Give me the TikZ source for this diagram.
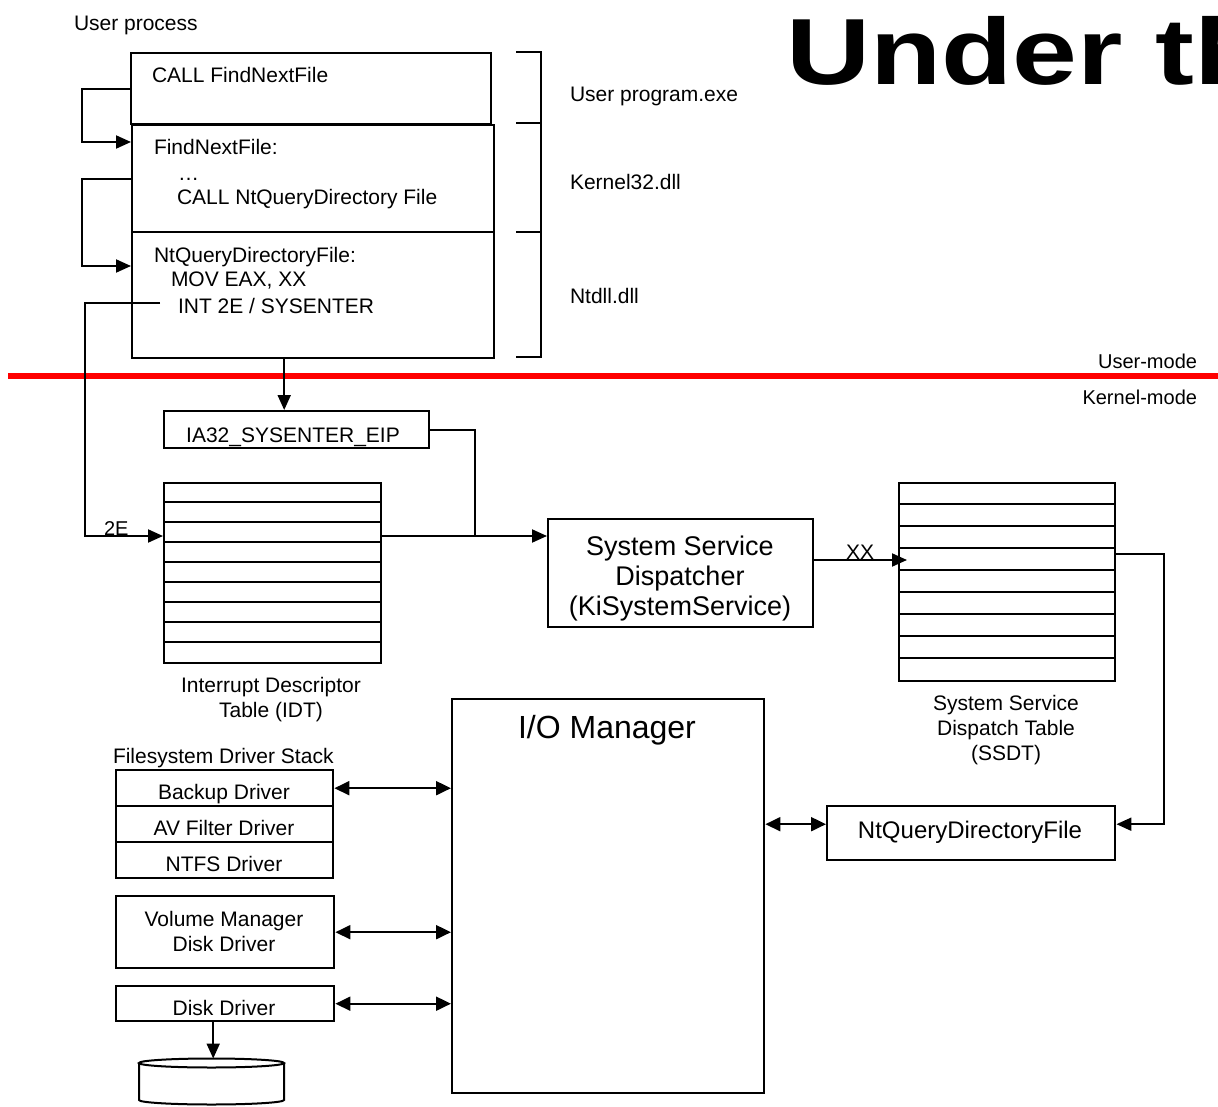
\documentclass[tikz,border=0pt]{standalone}
\usepackage{fontspec}
\setmainfont{Liberation Sans}
\usetikzlibrary{arrows.meta, positioning, calc}
\definecolor{modered}{HTML}{FF0000}
\newcommand{\lblfont}{\fontsize{21}{25}\selectfont}
\newcommand{\modefont}{\fontsize{20}{24}\selectfont}
\newcommand{\ssdfont}{\fontsize{27}{30}\selectfont}
\newcommand{\ntqfont}{\fontsize{24}{28}\selectfont}
\newcommand{\iofont}{\fontsize{32}{36}\selectfont}
\newcommand{\titlefont}{\fontsize{94}{100}\selectfont\bfseries}

\begin{document}
\begin{tikzpicture}[x=1pt, y=-1pt, line width=2pt,
    blk/.style={draw, line width=2.4pt, anchor=north west, inner sep=0pt},
    txt/.style={anchor=base west, inner sep=0pt, font=\lblfont},
    ctxt/.style={anchor=base, inner sep=0pt, font=\lblfont},
    arr/.style={-{Triangle[length=15pt, width=13pt]}},
    dbl/.style={{Triangle[length=15pt, width=14pt]}-{Triangle[length=15pt, width=14pt]}}]
  \useasboundingbox (0,0) rectangle (1218,1107);
  \clip (0,0) rectangle (1218,1107);

  % slide title, cut by the right edge
  \node[anchor=base west, inner sep=0pt, font=\titlefont, xscale=1.24] (title) at (785,85) {Under the};

  % user / kernel boundary
  \draw[modered, line width=6pt] (8,376) -- (1218,376);
  \node[anchor=base east, inner sep=0pt, font=\modefont] (usermode) at (1198,368) {User-mode};
  \node[anchor=base east, inner sep=0pt, font=\modefont] (kernmode) at (1198,404) {Kernel-mode};

  % user process
  \node[txt] (proc) at (73,31) {User process};
  \node[blk, minimum width=360pt, minimum height=71pt] (callbox) at (130,52) {};
  \node[blk, minimum width=362pt, minimum height=107pt] (fnbox) at (131,124) {};
  \node[blk, minimum width=362pt, minimum height=126pt] (ntbox) at (131,231) {};
  \node[txt] (callline) at (151,83) {CALL FindNextFile};
  \node[txt] (fnlabel) at (153,155) {FindNextFile:};
  \node[txt] (fndots) at (177,181) {…};
  \node[txt] (fncall) at (176,205) {CALL NtQueryDirectory File};
  \node[txt] (ntlabel) at (153,263) {NtQueryDirectoryFile:};
  \node[txt] (ntmov) at (170,287) {MOV EAX, XX};
  \node[txt] (ntint) at (177,313) {INT 2E / SYSENTER};

  % module brackets
  \draw (516,52) -- (541,52) -- (541,357) -- (516,357);
  \draw (516,123) -- (541,123);
  \draw (516,232) -- (541,232);
  \node[txt] (exe) at (569,102) {User program.exe};
  \node[txt] (k32) at (569,190) {Kernel32.dll};
  \node[txt] (ntdll) at (569,304) {Ntdll.dll};

  % call chain
  \draw[arr] (callbox.west) -- ++(-48,0) |- ($(fnbox.north west)+(0,18)$);
  \draw[arr] (fnbox.west) -- ++(-49,0) |- ($(ntbox.north west)+(0,35)$);

  % kernel side
  \node[blk, minimum width=265pt, minimum height=37pt] (ia32) at (163,410) {};
  \node[ctxt] (ia32txt) at (293,442) {IA32\_SYSENTER\_EIP};

  \node[blk, minimum width=217pt, minimum height=180pt] (idt) at (163,482) {};
  \foreach \r in {1,...,8}
    \draw ($(idt.north west)+(0,20*\r)$) -- ($(idt.north east)+(0,20*\r)$);
  \node[ctxt] (idtcap1) at (271,692) {Interrupt Descriptor};
  \node[ctxt] (idtcap2) at (271,717) {Table (IDT)};

  \node[blk, minimum width=265pt, minimum height=108pt] (ssd) at (547,518) {};
  \node[anchor=base, inner sep=0pt, font=\ssdfont] (ssd1) at (680,555) {System Service};
  \node[anchor=base, inner sep=0pt, font=\ssdfont] (ssd2) at (680,585) {Dispatcher};
  \node[anchor=base, inner sep=0pt, font=\ssdfont] (ssd3) at (680,615) {(KiSystemService)};

  \node[blk, minimum width=216pt, minimum height=198pt] (ssdt) at (898,482) {};
  \foreach \r in {1,...,8}
    \draw ($(ssdt.north west)+(0,22*\r)$) -- ($(ssdt.north east)+(0,22*\r)$);
  \node[ctxt] (ssdtcap1) at (1006,710) {System Service};
  \node[ctxt] (ssdtcap2) at (1006,735) {Dispatch Table};
  \node[ctxt] (ssdtcap3) at (1006,760) {(SSDT)};

  \node[blk, minimum width=312pt, minimum height=394pt] (io) at (451,698) {};
  \node[anchor=base, inner sep=0pt, font=\iofont] (iotxt) at (607,738) {I/O Manager};

  \node[blk, minimum width=288pt, minimum height=54pt] (ntq) at (826,805) {};
  \node[anchor=base, inner sep=0pt, font=\ntqfont] (ntqtxt) at (970,838) {NtQueryDirectoryFile};

  % driver stack
  \node[txt] (fsstack) at (112,763) {Filesystem Driver Stack};
  \node[blk, minimum width=217pt, minimum height=36pt] (backup) at (115,769) {};
  \node[blk, minimum width=217pt, minimum height=36pt] (avfilter) at (115,805) {};
  \node[blk, minimum width=217pt, minimum height=36pt] (ntfs) at (115,841) {};
  \node[ctxt] (backuptxt) at (224,799) {Backup Driver};
  \node[ctxt] (avtxt) at (224,835) {AV Filter Driver};
  \node[ctxt] (ntfstxt) at (224,871) {NTFS Driver};
  \node[blk, minimum width=218pt, minimum height=72pt] (volume) at (115,895) {};
  \node[ctxt] (voltxt1) at (224,926) {Volume Manager};
  \node[ctxt] (voltxt2) at (224,951) {Disk Driver};
  \node[blk, minimum width=218pt, minimum height=35pt] (diskdrv) at (115,985) {};
  \node[ctxt] (disktxt) at (224,1015) {Disk Driver};

  % disk
  \coordinate (disktop) at (211.5,1063);
  \coordinate (disklid) at (211.5,1058.5);
  \draw (disktop) ellipse [x radius=72.5, y radius=4.5];
  \draw (139,1063) -- (139,1100) arc [start angle=180, end angle=0, x radius=72.5, y radius=4.5] -- (284,1063);

  % connectors
  \coordinate (intline) at (160,303);
  \draw[arr] (intline) -- ++(-75,0) |- ($(idt.north west)+(0,54)$);
  \node[anchor=base west, inner sep=0pt, font=\modefont] (vec2e) at (103,535) {2E};

  \coordinate (sysexit) at ($(ntbox.south)+(-29,0)$);
  \draw[arr] (sysexit) -- (sysexit |- ia32.north);
  \coordinate (join) at (475,536);
  \draw (ia32.east) -| (join);
  \draw[arr] ($(idt.north east)+(0,54)$) -- ($(ssd.north west)+(0,18)$);

  \draw[arr] ($(ssd.north east)+(0,42)$) -- ($(ssdt.north west)+(9,78)$);
  \node[anchor=base west, inner sep=0pt, font=\lblfont] (svcidx) at (845,559) {XX};

  \coordinate (ntqin) at ($(ntq.east)+(0,-9)$);
  \draw[arr] ($(ssdt.north east)+(0,72)$) -- ++(48,0) |- (ntqin);
  \coordinate (ntqout) at ($(ntq.west)+(0,-9)$);
  \draw[dbl] (io.east |- ntqout) -- (ntqout);

  \draw[dbl] (backup.east) -- (backup.east -| io.west);
  \draw[dbl] (volume.east) -- (volume.east -| io.west);
  \draw[dbl] (diskdrv.east) -- (diskdrv.east -| io.west);

  \coordinate (diskout) at ($(diskdrv.south)+(-12,0)$);
  \draw[arr] (diskout) -- (diskout |- disklid);
\end{tikzpicture}
\end{document}
